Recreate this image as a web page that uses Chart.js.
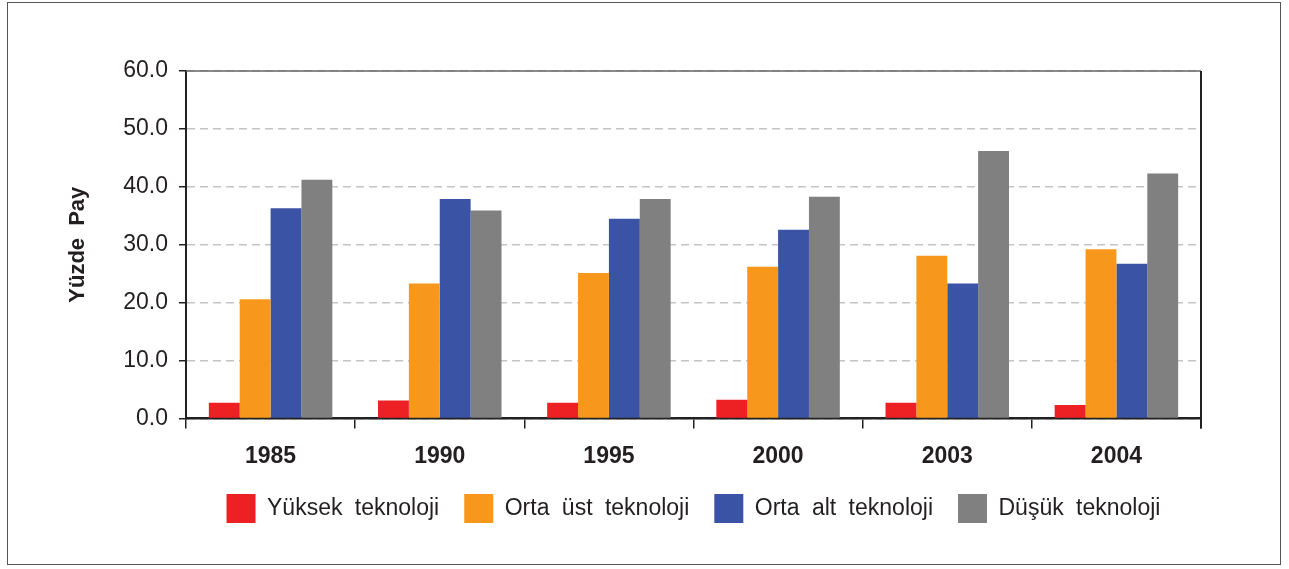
<!DOCTYPE html>
<html>
<head>
<meta charset="utf-8">
<script src="https://cdn.jsdelivr.net/npm/chart.js@4/dist/chart.umd.min.js"></script>
<style>
  html, body { margin: 0; padding: 0; background: #fff; overflow: hidden; }
  #wrap { position: relative; width: 1289px; height: 569px; }
  #frame { position: absolute; left: 7px; top: 2px; width: 1274px; height: 563px; border: 1px solid #555; box-sizing: border-box; pointer-events: none; }
  canvas { position: absolute; left: 0; top: 0; }
</style>
</head>
<body>
<div id="wrap">
  <canvas id="chart" width="1289" height="569"></canvas>
  <div id="frame"></div>
</div>
<script>
// --- DATA ---
const years = ['1985', '1990', '1995', '2000', '2003', '2004'];
const yuksek = [2.7, 3.1, 2.7, 3.2, 2.7, 2.3];
const ortaUst = [20.6, 23.3, 25.1, 26.2, 28.1, 29.2];
const ortaAlt = [36.3, 37.9, 34.5, 32.6, 23.3, 26.7];
const dusuk = [41.2, 35.9, 37.9, 38.3, 46.2, 42.3];
const yTicks = [0, 10, 20, 30, 40, 50, 60];

const seriesNames = ['Yüksek teknoloji', 'Orta üst teknoloji', 'Orta alt teknoloji', 'Düşük teknoloji'];
const seriesColors = ['#ED2024', '#F7981D', '#3A53A4', '#808080'];

const FONT = "'Liberation Sans', Arial, sans-serif";
const TEXT = '#231f20';

// wider gaps between words, like the original
const wordSpacing = {
    id: 'wordSpacing',
    beforeLayout(chart) { chart.ctx.wordSpacing = '6px'; },
    beforeDraw(chart) { chart.ctx.wordSpacing = '6px'; }
};

// legend sits a bit closer to the year labels
const legendNudge = {
    id: 'legendNudge',
    afterLayout(chart) {
        chart.legend.top -= 15;
        chart.legend.bottom -= 15;
    }
};

// solid top and right edges of the plot box
const plotBox = {
    id: 'plotBox',
    afterDatasetsDraw(chart) {
        const { ctx, chartArea: a } = chart;
        ctx.save();
        ctx.lineWidth = 1.5;
        ctx.strokeStyle = '#666';
        ctx.beginPath();
        ctx.moveTo(a.left, a.top);
        ctx.lineTo(a.right, a.top);
        ctx.stroke();
        ctx.lineWidth = 2;
        ctx.strokeStyle = '#222';
        ctx.beginPath();
        ctx.moveTo(a.right, a.top);
        ctx.lineTo(a.right, a.bottom + 10);
        ctx.stroke();
        ctx.restore();
    }
};

const datasets = [yuksek, ortaUst, ortaAlt, dusuk].map((d, i) => ({
    label: seriesNames[i],
    data: d,
    backgroundColor: seriesColors[i],
    borderWidth: 0,
    categoryPercentage: 0.73,
    barPercentage: 1.0
}));

new Chart(document.getElementById('chart'), {
    type: 'bar',
    data: { labels: years, datasets },
    plugins: [wordSpacing, legendNudge, plotBox],
    options: {
        responsive: false,
        animation: false,
        devicePixelRatio: 1,
        layout: { padding: { left: 65, right: 88, top: 71, bottom: 21 } },
        plugins: {
            tooltip: { enabled: false },
            legend: {
                position: 'bottom',
                fullSize: false,
                labels: {
                    boxWidth: 29,
                    boxHeight: 29,
                    padding: 25,
                    color: TEXT,
                    font: { family: FONT, size: 23 }
                }
            }
        },
        scales: {
            x: {
                offset: true,
                grid: {
                    offset: true,
                    drawOnChartArea: false,
                    tickLength: 10,
                    tickColor: '#222',
                    lineWidth: 1.5
                },
                border: { display: true, color: '#222', width: 2.5 },
                ticks: {
                    padding: 14,
                    color: TEXT,
                    font: { family: FONT, size: 23, weight: 'bold' }
                }
            },
            y: {
                min: 0,
                max: 60,
                afterFit(scale) { scale.width = 121; },
                afterBuildTicks(scale) { scale.ticks = yTicks.map(v => ({ value: v })); },
                grid: {
                    color: '#c4c4c4',
                    lineWidth: 1.5,
                    tickLength: 7,
                    tickColor: '#222',
                    tickBorderDash: [],
                    tickWidth: 1.5
                },
                border: { display: true, color: '#222', width: 2, dash: [8, 5] },
                ticks: {
                    padding: 11,
                    color: TEXT,
                    font: { family: FONT, size: 23 },
                    callback: v => v.toFixed(1)
                },
                title: {
                    display: true,
                    text: 'Yüzde Pay',
                    color: TEXT,
                    padding: { top: 0, bottom: 0 },
                    font: { family: FONT, size: 22, weight: 'bold' }
                }
            }
        }
    }
});
</script>
</body>
</html>
